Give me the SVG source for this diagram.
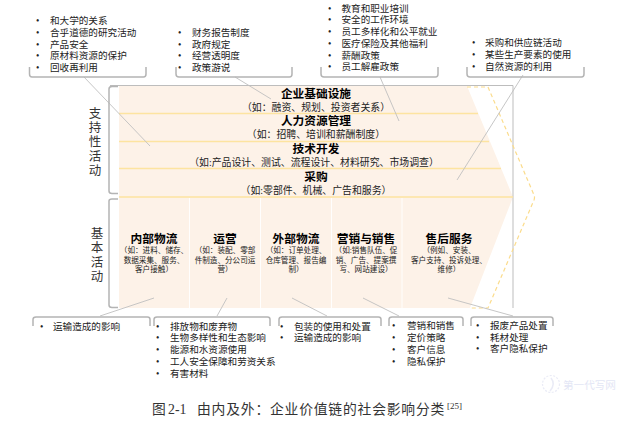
<svg xmlns="http://www.w3.org/2000/svg" width="629" height="421" viewBox="0 0 629 421">
<style>
text{font-family:"Liberation Serif","Noto Sans CJK SC",serif;fill:#222}
.b{font-size:9.6px}
.h{font-size:11.7px;font-weight:bold;text-anchor:middle;fill:#000}
.s{font-size:9.900px;text-anchor:middle}
.m{font-size:7.600px;text-anchor:middle}
.v{font-size:12.5px;text-anchor:middle;fill:#333}
.br{fill:none;stroke:#b4b4b4;stroke-width:1.5}
.ld{fill:none;stroke:#c0c0c0;stroke-width:.9}
.y{stroke:#fde4a0;stroke-width:1.3;fill:none}
.w{stroke:#fff;stroke-width:.9}
</style>
<g id="chain">
<polygon points="119,86 467,86 513,197 470,308 119,308" fill="#fdf2e8"/>
<path d="M110,85.5H513V308" fill="none" stroke="#bdbdbd" stroke-width="1"/>
<path class="y" d="M119,113.5H478M119,141.5H489M119,168.5H501M119,197H513"/>
<path class="w" d="M189.500,198V308M260.500,198V308M331.500,198V308M402,198V308"/>
<path d="M467,87H488L534,195Q535,197 534,200L488,308H469" fill="none" stroke="#fbdc8c" stroke-width="1.2" stroke-dasharray="4 3"/>
</g>
<g id="connectors">
<path class="ld" d="M84,77L150,146M235,77L271,99M380,77L399,121M523,75L457,180M100,316L154,298M217,316L227,298M292,298L327,316M363,298L399,316M448,298L513,316"/>
</g>
<g id="bracket-support"><path class="br" d="M118,86.500H112Q109,86.500 109,89V191Q109,193.500 112,193.500H118"/>
<text class="v" x="95" y="118">支</text><text class="v" x="95" y="132">持</text><text class="v" x="95" y="146">性</text><text class="v" x="95" y="161">活</text><text class="v" x="95" y="175">动</text></g>
<g id="bracket-primary"><path class="br" d="M118,199H112Q109,199 109,201V305Q109,307.500 112,307.500H118"/>
<text class="v" x="97" y="238">基</text><text class="v" x="97" y="252">本</text><text class="v" x="97" y="267">活</text><text class="v" x="97" y="281">动</text></g>
<g id="infrastructure"><text class="h" x="316" y="98">企业基础设施</text><text class="s" x="316" y="110.500">（如：融资、规划、投资者关系）</text></g>
<g id="hr"><text class="h" x="316" y="125">人力资源管理</text><text class="s" x="316" y="137.500">（如：招聘、培训和薪酬制度）</text></g>
<g id="tech"><text class="h" x="316" y="153">技术开发</text><text class="s" x="314" y="165.500">（如:产品设计、测试、流程设计、材料研究、市场调查）</text></g>
<g id="procurement"><text class="h" x="316" y="181">采购</text><text class="s" x="316" y="193.500">（如:零部件、机械、广告和服务）</text></g>
<g id="inbound"><text class="h" x="154" y="243">内部物流</text><text class="m" x="154" y="253">（如：进料、储存、</text><text class="m" x="154" y="263">数据采集、服务、</text><text class="m" x="154" y="272">客户接触）</text></g>
<g id="operations"><text class="h" x="225" y="243">运营</text><text class="m" x="225" y="253">（如：装配、零部</text><text class="m" x="225" y="263">件制造、分公司运</text><text class="m" x="225" y="272">营）</text></g>
<g id="outbound"><text class="h" x="296" y="243">外部物流</text><text class="m" x="296" y="253">（如：订单处理、</text><text class="m" x="296" y="263">仓库管理、报告编</text><text class="m" x="296" y="272">制）</text></g>
<g id="marketing"><text class="h" x="366" y="243">营销与销售</text><text class="m" x="366" y="253">（如:销售队伍、促</text><text class="m" x="366" y="263">销、广告、提案撰</text><text class="m" x="366" y="272">写、网站建设）</text></g>
<g id="service"><text class="h" x="449" y="243">售后服务</text><text class="m" x="449" y="253">（例如、安装、</text><text class="m" x="449" y="263">客户支持、投诉处理、</text><text class="m" x="449" y="272">维修）</text></g>
<g id="note-top-1"><path class="br" d="M29.500,67V74Q29.500,77 32,77H143.500Q146,77 146,74V67"/>
<g class="b"><text x="36" y="24">•</text><text x="50" y="24">和大学的关系</text><text x="36" y="36">•</text><text x="50" y="36">合乎道德的研究活动</text><text x="36" y="47.500">•</text><text x="50" y="47.500">产品安全</text><text x="36" y="59">•</text><text x="50" y="59">原材料资源的保护</text><text x="36" y="71">•</text><text x="50" y="71">回收再利用</text></g></g>
<g id="note-top-2"><path class="br" d="M176,67V74Q176,77 179,77H289.500Q292,77 292,74V67"/>
<g class="b"><text x="178" y="36">•</text><text x="192" y="36">财务报告制度</text><text x="178" y="47.500">•</text><text x="192" y="47.500">政府规定</text><text x="178" y="59">•</text><text x="192" y="59">经营透明度</text><text x="178" y="71">•</text><text x="192" y="71">政策游说</text></g></g>
<g id="note-top-3"><path class="br" d="M321,67V74Q321,77 324,77H435.500Q438,77 438,74V67"/>
<g class="b"><text x="328" y="11.500">•</text><text x="341.500" y="11.500">教育和职业培训</text><text x="328" y="23">•</text><text x="341.500" y="23">安全的工作环境</text><text x="328" y="35">•</text><text x="341.500" y="35">员工多样化和公平就业</text><text x="328" y="47">•</text><text x="341.500" y="47">医疗保险及其他福利</text><text x="328" y="58.500">•</text><text x="341.500" y="58.500">薪酬政策</text><text x="328" y="70">•</text><text x="341.500" y="70">员工解雇政策</text></g></g>
<g id="note-top-4"><path class="br" d="M467,67V74Q467,77 470,77H581.500Q584,77 584,74V67"/>
<g class="b"><text x="472" y="46">•</text><text x="485" y="46">采购和供应链活动</text><text x="472" y="57.500">•</text><text x="485" y="57.500">某些生产要素的使用</text><text x="472" y="69.500">•</text><text x="485" y="69.500">自然资源的利用</text></g></g>
<g id="note-bottom-1"><path class="br" d="M33,326V319.500Q33,317 36,317H147.500Q150,317 150,319.500V326"/>
<g class="b"><text x="40" y="329.500">•</text><text x="53" y="329.500">运输造成的影响</text></g></g>
<g id="note-bottom-2"><path class="br" d="M154,326V319.500Q154,317 157,317H267.500Q270,317 270,319.500V326"/>
<g class="b"><text x="156" y="329.500">•</text><text x="170" y="329.500">排放物和废弃物</text><text x="156" y="341">•</text><text x="170" y="341">生物多样性和生态影响</text><text x="156" y="353">•</text><text x="170" y="353">能源和水资源使用</text><text x="156" y="364.500">•</text><text x="170" y="364.500">工人安全保障和劳资关系</text><text x="156" y="376.500">•</text><text x="170" y="376.500">有害材料</text></g></g>
<g id="note-bottom-3"><path class="br" d="M279,326V319.500Q279,317 282,317H378.500Q381,317 381,319.500V326"/>
<g class="b"><text x="280" y="329.500">•</text><text x="294" y="329.500">包装的使用和处置</text><text x="280" y="341">•</text><text x="294" y="341">运输造成的影响</text></g></g>
<g id="note-bottom-4"><path class="br" d="M389,326V319.500Q389,317 392,317H460.500Q463,317 463,319.500V326"/>
<g class="b"><text x="392" y="329">•</text><text x="407" y="329">营销和销售</text><text x="392" y="341">•</text><text x="407" y="341">定价策略</text><text x="392" y="352.500">•</text><text x="407" y="352.500">客户信息</text><text x="392" y="364.500">•</text><text x="407" y="364.500">隐私保护</text></g></g>
<g id="note-bottom-5"><path class="br" d="M471,326V319.500Q471,317 474,317H550.500Q553,317 553,319.500V326"/>
<g class="b"><text x="476" y="329">•</text><text x="490" y="329">报废产品处置</text><text x="476" y="340.500">•</text><text x="490" y="340.500">耗材处理</text><text x="476" y="352">•</text><text x="490" y="352">客户隐私保护</text></g></g>
<text x="152" y="414" font-size="13.800" style="fill:#333">图<tspan x="168">2-1</tspan><tspan x="197" letter-spacing=".8">由内及外：企业价值链的社会影响分类</tspan><tspan x="447" font-size="9" dy="-5">[25]</tspan></text>
<g id="watermark" opacity=".55"><circle cx="551" cy="384" r="8.500" fill="none" stroke="#d9dcf0" stroke-width="1.200" stroke-dasharray="2 1.500"/><path d="M551,378Q556,384 550,391" fill="none" stroke="#d9dcf0" stroke-width="1.500"/><text x="563" y="389" font-size="10.600" style="fill:#cdd2ee">第一代写网</text></g>
</svg>
